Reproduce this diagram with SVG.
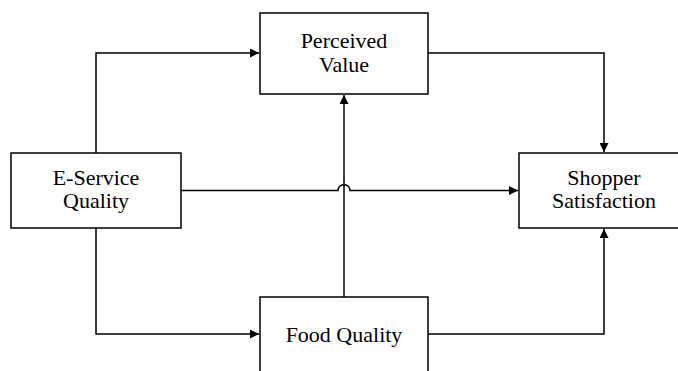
<svg xmlns="http://www.w3.org/2000/svg" width="678" height="371" viewBox="0 0 678 371">
<style>
.box{fill:#fff;stroke:#000;stroke-width:1.5}
.lbl{font-family:"Liberation Serif","Times New Roman",serif;font-size:22px;fill:#000;text-anchor:middle}
.conn{fill:none;stroke:#000;stroke-width:1.5}
</style>
<defs>
<marker id="ah" viewBox="0 0 10 10" refX="10" refY="5" markerWidth="10" markerHeight="9" markerUnits="userSpaceOnUse" orient="auto">
<path d="M0,0 L10,5 L0,10 Z" fill="#000"/>
</marker>
</defs>
<rect width="678" height="371" fill="#fff"/>
<g id="connectors">
<path class="conn" d="M96,153 V53 H259" marker-end="url(#ah)"/>
<path class="conn" d="M428,53 H604 V152" marker-end="url(#ah)"/>
<path class="conn" d="M344,297 V95" marker-end="url(#ah)"/>
<path class="conn" d="M181,190.5 H338 A6,6 0 0 1 350,190.5 H518" marker-end="url(#ah)"/>
<path class="conn" d="M96,228 V334 H259" marker-end="url(#ah)"/>
<path class="conn" d="M428,334 H604 V229" marker-end="url(#ah)"/>
</g>
<g id="perceived-value">
<rect class="box" x="260" y="13" width="168" height="81"/>
<text class="lbl" x="344" y="48">Perceived</text>
<text class="lbl" x="344" y="71.5">Value</text>
</g>
<g id="e-service-quality">
<rect class="box" x="11" y="153" width="170" height="75"/>
<text class="lbl" x="96" y="185">E-Service</text>
<text class="lbl" x="96" y="208">Quality</text>
</g>
<g id="shopper-satisfaction">
<rect class="box" x="519" y="153" width="170" height="75"/>
<text class="lbl" x="604" y="185">Shopper</text>
<text class="lbl" x="604" y="208">Satisfaction</text>
</g>
<g id="food-quality">
<rect class="box" x="260" y="297" width="168" height="85"/>
<text class="lbl" x="344" y="342">Food Quality</text>
</g>
</svg>
